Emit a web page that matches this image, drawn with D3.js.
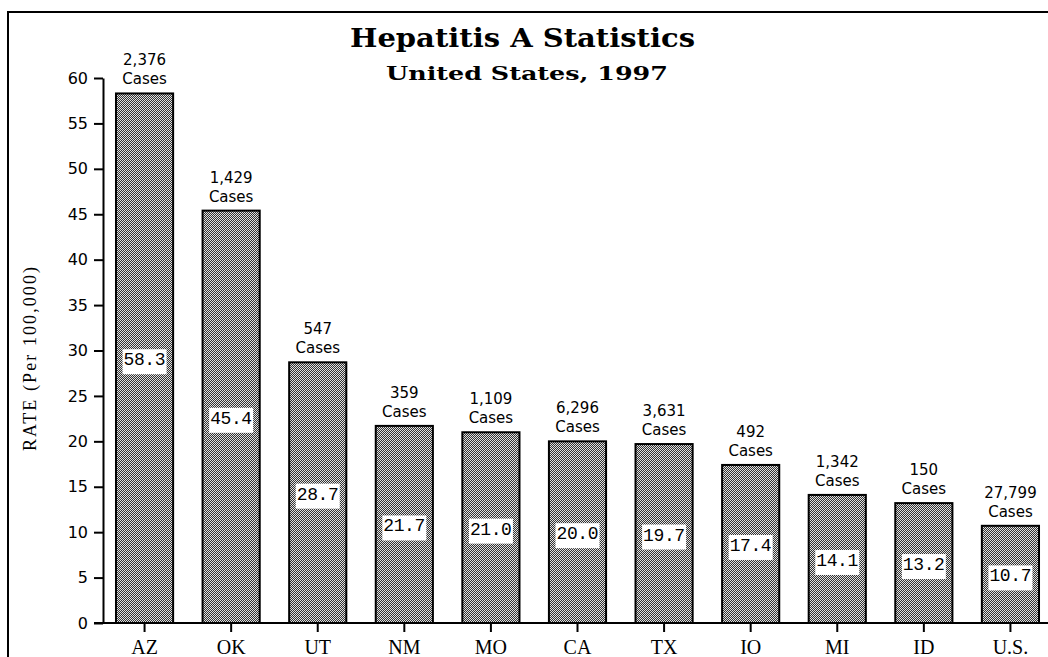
<!DOCTYPE html>
<html>
<head>
<meta charset="utf-8">
<script src="https://cdn.jsdelivr.net/npm/d3@7"></script>
<style>
  body { margin: 0; background: #fff; }
  svg { display: block; }
</style>
</head>
<body>
<svg id="chart" width="1048" height="657"></svg>
<script>
// data
var states = ["AZ", "OK", "UT", "NM", "MO", "CA", "TX", "IO", "MI", "ID", "U.S."];
var rates = [58.3, 45.4, 28.7, 21.7, 21.0, 20.0, 19.7, 17.4, 14.1, 13.2, 10.7];
var cases = ["2,376", "1,429", "547", "359", "1,109", "6,296", "3,631", "492", "1,342", "150", "27,799"];
var yTicks = [0, 5, 10, 15, 20, 25, 30, 35, 40, 45, 50, 55, 60];

var dataset = states.map(function(s, i) {
  return { state: s, rate: rates[i], cases: cases[i] };
});

var svg = d3.select("#chart");

var x = d3.scaleBand()
  .domain(states)
  .range([103, 1052])
  .paddingInner(0.34)
  .paddingOuter(0.15);

var y = d3.scaleLinear()
  .domain([0, 60])
  .range([623, 78]);

// dithered fill like the old bitmap
var defs = svg.append("defs");
var pat = defs.append("pattern")
  .attr("id", "dither")
  .attr("width", 2)
  .attr("height", 2)
  .attr("patternUnits", "userSpaceOnUse");
pat.append("rect").attr("width", 2).attr("height", 2).attr("fill", "#333");
pat.append("rect").attr("x", 0).attr("y", 0).attr("width", 1).attr("height", 1).attr("fill", "#e0e0e0");
pat.append("rect").attr("x", 1).attr("y", 1).attr("width", 1).attr("height", 1).attr("fill", "#e0e0e0");

// frame
svg.append("rect")
  .attr("x", 8)
  .attr("y", 12)
  .attr("width", 1100)
  .attr("height", 700)
  .attr("fill", "none")
  .attr("stroke", "#000")
  .attr("stroke-width", 2);

// titles
svg.append("text")
  .text("Hepatitis A Statistics")
  .attr("x", 350)
  .attr("y", 47)
  .attr("textLength", 345)
  .attr("lengthAdjust", "spacingAndGlyphs")
  .style("font-family", "'DejaVu Serif', serif")
  .style("font-weight", "bold")
  .style("font-size", "26px");

svg.append("text")
  .text("United States, 1997")
  .attr("x", 386)
  .attr("y", 80)
  .attr("textLength", 282)
  .attr("lengthAdjust", "spacingAndGlyphs")
  .style("font-family", "'DejaVu Serif', serif")
  .style("font-weight", "bold")
  .style("font-size", "19px");

// y axis
var yAxis = d3.axisLeft(y)
  .tickValues(yTicks)
  .tickSize(9)
  .tickPadding(6)
  .tickSizeOuter(0);

var gy = svg.append("g")
  .attr("transform", "translate(103,0)")
  .call(yAxis);
gy.select(".domain").attr("stroke", "#000").attr("stroke-width", 2);
gy.selectAll(".tick line").attr("stroke", "#000").attr("stroke-width", 2);
gy.selectAll(".tick text")
  .attr("fill", "#000")
  .style("font-family", "'DejaVu Sans', sans-serif")
  .style("font-size", "16px");

svg.append("text")
  .text("RATE (Per 100,000)")
  .attr("transform", "translate(36,359) rotate(-90)")
  .attr("text-anchor", "middle")
  .attr("textLength", 184)
  .style("font-family", "'Liberation Serif', serif")
  .style("font-size", "18px");

// bars
var bars = svg.append("g")
  .selectAll("g")
  .data(dataset)
  .enter()
  .append("g")
    .attr("class", "bar");

bars.append("rect")
  .attr("x", function(d) { return x(d.state); })
  .attr("y", function(d) { return y(d.rate); })
  .attr("width", x.bandwidth())
  .attr("height", function(d) { return y(0) - y(d.rate); })
  .attr("fill", "url(#dither)")
  .attr("stroke", "#000")
  .attr("stroke-width", 2);

// case counts above bars
bars.append("text")
  .attr("x", function(d) { return x(d.state) + x.bandwidth() / 2; })
  .attr("y", function(d) { return y(d.rate) - 28; })
  .attr("text-anchor", "middle")
  .text(function(d) { return d.cases; })
  .style("font-family", "'DejaVu Sans', sans-serif")
  .style("font-size", "15px");

bars.append("text")
  .attr("x", function(d) { return x(d.state) + x.bandwidth() / 2; })
  .attr("y", function(d) { return y(d.rate) - 9; })
  .attr("text-anchor", "middle")
  .text("Cases")
  .style("font-family", "'DejaVu Sans', sans-serif")
  .style("font-size", "15px");

// value boxes at mid height
bars.append("rect")
  .attr("x", function(d) { return x(d.state) + x.bandwidth() / 2 - 22; })
  .attr("y", function(d) { return y(d.rate / 2) - 9; })
  .attr("width", 44)
  .attr("height", 25)
  .attr("fill", "#fff");

bars.append("text")
  .attr("x", function(d) { return x(d.state) + x.bandwidth() / 2; })
  .attr("y", function(d) { return y(d.rate / 2) + 7; })
  .attr("text-anchor", "middle")
  .attr("textLength", 42)
  .text(function(d) { return d3.format(".1f")(d.rate); })
  .style("font-family", "'Liberation Mono', monospace")
  .style("font-size", "18px");

// x axis
svg.append("line")
  .attr("x1", 94)
  .attr("x2", 1048)
  .attr("y1", y(0))
  .attr("y2", y(0))
  .attr("stroke", "#000")
  .attr("stroke-width", 2);

var xAxis = d3.axisBottom(x)
  .tickSize(9)
  .tickPadding(8)
  .tickSizeOuter(0);

var gx = svg.append("g")
  .attr("transform", "translate(0," + y(0) + ")")
  .call(xAxis);
gx.select(".domain").remove();
gx.selectAll(".tick line").attr("stroke", "#000").attr("stroke-width", 2);
gx.selectAll(".tick text")
  .attr("fill", "#000")
  .style("font-family", "'Liberation Serif', serif")
  .style("font-size", "20px");
</script>
</body>
</html>
